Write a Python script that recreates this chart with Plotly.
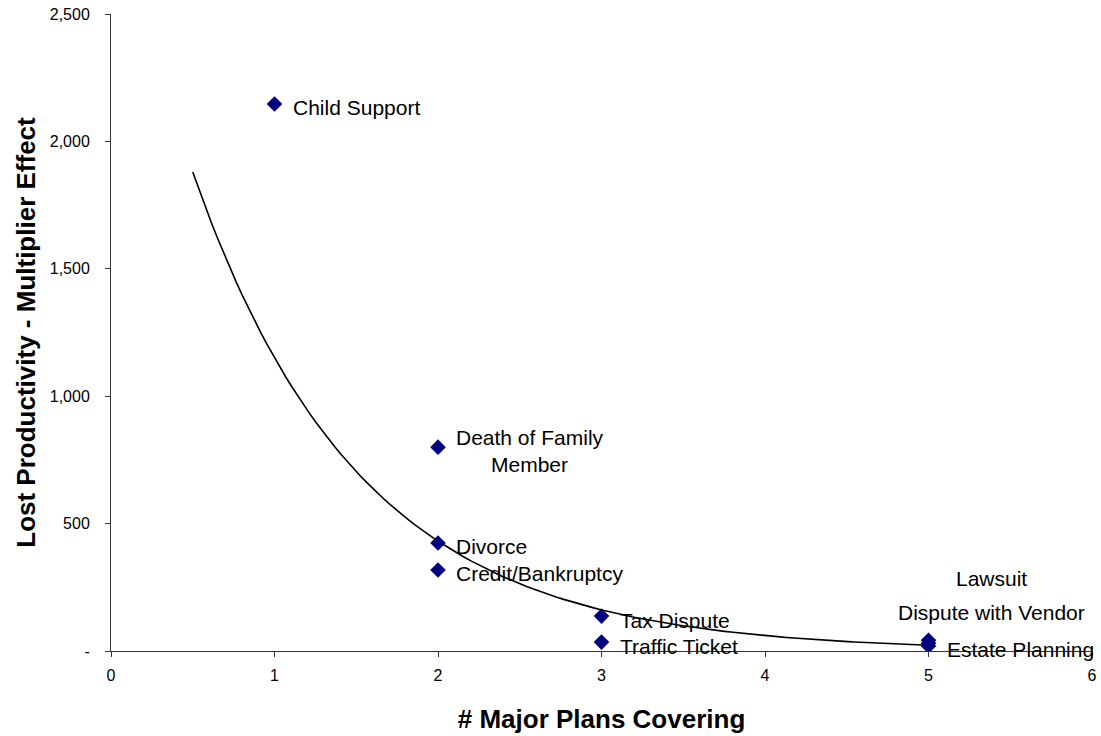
import numpy as np
import plotly.graph_objects as go

# data
events = ["Child Support", "Death of Family<br>Member", "Divorce", "Credit/Bankruptcy",
          "Tax Dispute", "Traffic Ticket", "Lawsuit", "Dispute with Vendor", "Estate Planning"]
plans_covering = [1, 2, 2, 2, 3, 3, 5, 5, 5]
lost_productivity = [2147, 800, 424, 318, 137, 35, 42, 30, 20]

y_tickvals = [0, 500, 1000, 1500, 2000, 2500]
y_ticktext = ["-", "500", "1,000", "1,500", "2,000", "2,500"]
x_tickvals = [0, 1, 2, 3, 4, 5, 6]

# label placement (xanchor, xshift, yshift) relative to each marker
label_pos = {
    "Lawsuit": ("center", 63, 62),
    "Dispute with Vendor": ("center", 63, 31),
}
default_pos = ("left", 16, -4)

# exponential trendline fitted to the points (Excel style), forecast back to 0.5
b, ln_a = np.polyfit(plans_covering, np.log(lost_productivity), 1)
trend_x = np.linspace(0.5, 5, 120)
trend_y = np.exp(ln_a) * np.exp(b * trend_x)

fig = go.Figure()

fig.add_trace(go.Scatter(x=trend_x, y=trend_y, mode="lines",
                         line=dict(color="black", width=1.6), hoverinfo="skip"))

fig.add_trace(go.Scatter(x=plans_covering, y=lost_productivity, mode="markers",
                         marker=dict(symbol="diamond", size=12, color="#000080",
                                     line=dict(width=0)),
                         text=events, hoverinfo="text"))

annotations = []
for name, xv, yv in zip(events, plans_covering, lost_productivity):
    anchor, dx, dy = label_pos.get(name, default_pos)
    annotations.append(dict(x=xv, y=yv, xref="x", yref="y", text=name, showarrow=False,
                            xanchor=anchor, yanchor="middle", xshift=dx, yshift=dy,
                            align="center", font=dict(size=21, color="black")))

fig.update_layout(
    width=1101, height=736,
    margin=dict(l=111, r=9, t=14, b=85),
    paper_bgcolor="white", plot_bgcolor="white",
    showlegend=False,
    font=dict(family="Liberation Sans, Arial, sans-serif", color="black"),
    annotations=annotations,
    xaxis=dict(range=[0, 6], tickvals=x_tickvals, showgrid=False, zeroline=False,
               automargin=False, ticklabeloverflow="allow",
               showline=True, linecolor="#333333", linewidth=1,
               ticks="outside", ticklen=5, tickcolor="#333333",
               tickfont=dict(size=16), ticklabelstandoff=5,
               title=dict(text="<b># Major Plans Covering</b>", font=dict(size=26),
                          standoff=26)),
    yaxis=dict(range=[0, 2500], tickvals=y_tickvals, ticktext=y_ticktext,
               showgrid=False, zeroline=False, automargin=False,
               ticklabeloverflow="allow",
               showline=True, linecolor="#333333", linewidth=1,
               ticks="outside", ticklen=5, tickcolor="#333333",
               tickfont=dict(size=16), ticklabelstandoff=12,
               title=dict(text="<b>Lost Productivity - Multiplier Effect</b>",
                          font=dict(size=26), standoff=6)),
)

# drop the default page margin so the figure sits at the window's top-left corner
fig.write_html("out.html", config={"displayModeBar": False},
               post_script="document.body.style.margin = '0';")
